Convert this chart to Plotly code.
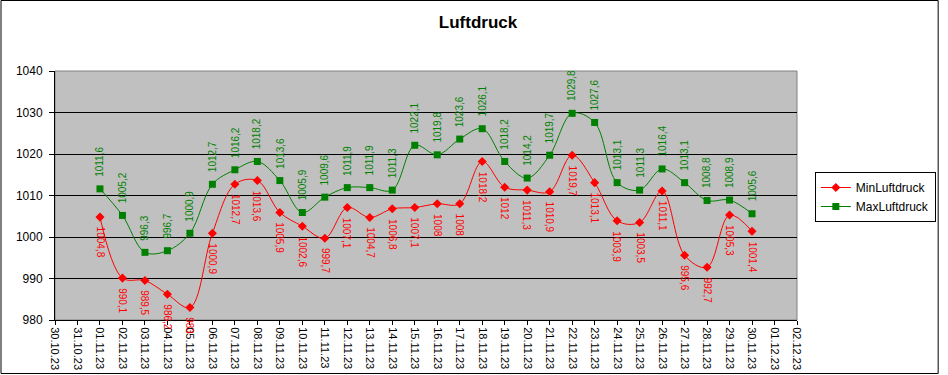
import plotly.graph_objects as go
import pandas as pd

dates = pd.date_range("2023-11-01", "2023-11-30", freq="D")
min_luftdruck = [1004.8, 990.1, 989.5, 986.2, 983.0, 1000.9, 1012.7, 1013.6, 1005.9, 1002.6,
                 999.7, 1007.1, 1004.7, 1006.8, 1007.1, 1008.0, 1008.0, 1018.2, 1012.0, 1011.3,
                 1010.9, 1019.7, 1013.1, 1003.9, 1003.5, 1011.1, 995.6, 992.7, 1005.3, 1001.4]
max_luftdruck = [1011.6, 1005.2, 996.3, 996.7, 1000.9, 1012.7, 1016.2, 1018.2, 1013.6, 1005.9,
                 1009.6, 1011.9, 1011.9, 1011.3, 1022.1, 1019.8, 1023.6, 1026.1, 1018.2, 1014.2,
                 1019.7, 1029.8, 1027.6, 1013.1, 1011.3, 1016.4, 1013.1, 1008.8, 1008.9, 1005.6]

def fmt(v):
    return f"{v:g}".replace(".", ",")

W, H = 948, 375
ML, MR, MT, MB = 55, 144, 71, 55
font = "Liberation Sans, Arial, sans-serif"

fig = go.Figure()
fig.add_trace(go.Scatter(
    x=dates, y=min_luftdruck, name="MinLuftdruck", mode="lines+markers",
    line=dict(color="#FF0000", width=1, shape="spline", smoothing=1.0),
    marker=dict(symbol="diamond", size=7, color="#FF0000"),
))
fig.add_trace(go.Scatter(
    x=dates, y=max_luftdruck, name="MaxLuftdruck", mode="lines+markers",
    line=dict(color="#008000", width=1, shape="spline", smoothing=1.0),
    marker=dict(symbol="square", size=7, color="#008000"),
))

annotations = []
for d, v in zip(dates, min_luftdruck):
    annotations.append(dict(x=d, y=v, xref="x", yref="y", text=fmt(v), showarrow=False,
                            textangle=90, yanchor="top", xanchor="center", yshift=-8,
                            font=dict(family=font, size=10, color="#FF0000")))
for d, v in zip(dates, max_luftdruck):
    annotations.append(dict(x=d, y=v, xref="x", yref="y", text=fmt(v), showarrow=False,
                            textangle=-90, yanchor="bottom", xanchor="center", yshift=10,
                            font=dict(family=font, size=10, color="#008000")))

pw = W - ML - MR
ph = H - MT - MB
shapes = [
    dict(type="rect", xref="paper", yref="paper",
         x0=(0.5 - ML) / pw, x1=(W - 1.5 - ML) / pw,
         y0=-(MB - 1.5) / ph, y1=(H - 0.5 - MB) / ph,
         line=dict(color="black", width=1), fillcolor="rgba(0,0,0,0)", layer="above"),
    dict(type="rect", xref="paper", yref="paper", x0=0, x1=1, y0=0, y1=1,
         line=dict(color="#808080", width=1), fillcolor="rgba(0,0,0,0)", layer="below"),
]

fig.update_layout(
    template="none",
    width=W, height=H,
    margin=dict(l=ML, r=MR, t=MT, b=MB, pad=0),
    paper_bgcolor="white", plot_bgcolor="#C0C0C0",
    separators=",.",
    title=dict(text="<b>Luftdruck</b>", x=0.5 + 4 / W, xanchor="center", y=1 - 22 / H,
               yanchor="middle", font=dict(family=font, size=17, color="black")),
    font=dict(family=font, size=11, color="black"),
    showlegend=True,
    legend=dict(x=(822 - ML) / pw, y=(H - MB - 172) / ph, xanchor="left", yanchor="top",
                bgcolor="white", bordercolor="black", borderwidth=1,
                font=dict(family=font, size=12, color="black"),
                tracegroupgap=2, itemwidth=30),
    annotations=annotations,
    shapes=shapes,
    xaxis=dict(type="date", range=["2023-10-30", "2023-12-02"], dtick=86400000,
               tick0="2023-10-30", tickformat="%d.%m.%y", tickangle=90, automargin=False,
               showgrid=False, zeroline=False, showline=True, linecolor="black", linewidth=1,
               ticks="outside", ticklen=4, tickcolor="black",
               tickfont=dict(family=font, size=11, color="black")),
    yaxis=dict(range=[980, 1040], dtick=10, showgrid=True, gridcolor="black", gridwidth=1,
               zeroline=False, showline=True, linecolor="black", linewidth=1, automargin=False,
               ticks="outside", ticklen=5, tickcolor="black", ticklabelstandoff=4,
               tickfont=dict(family=font, size=12, color="black")),
)
fig.write_html("out.html", config={"displayModeBar": False},
               post_script="document.body.style.margin='0';document.body.style.overflow='hidden';")
